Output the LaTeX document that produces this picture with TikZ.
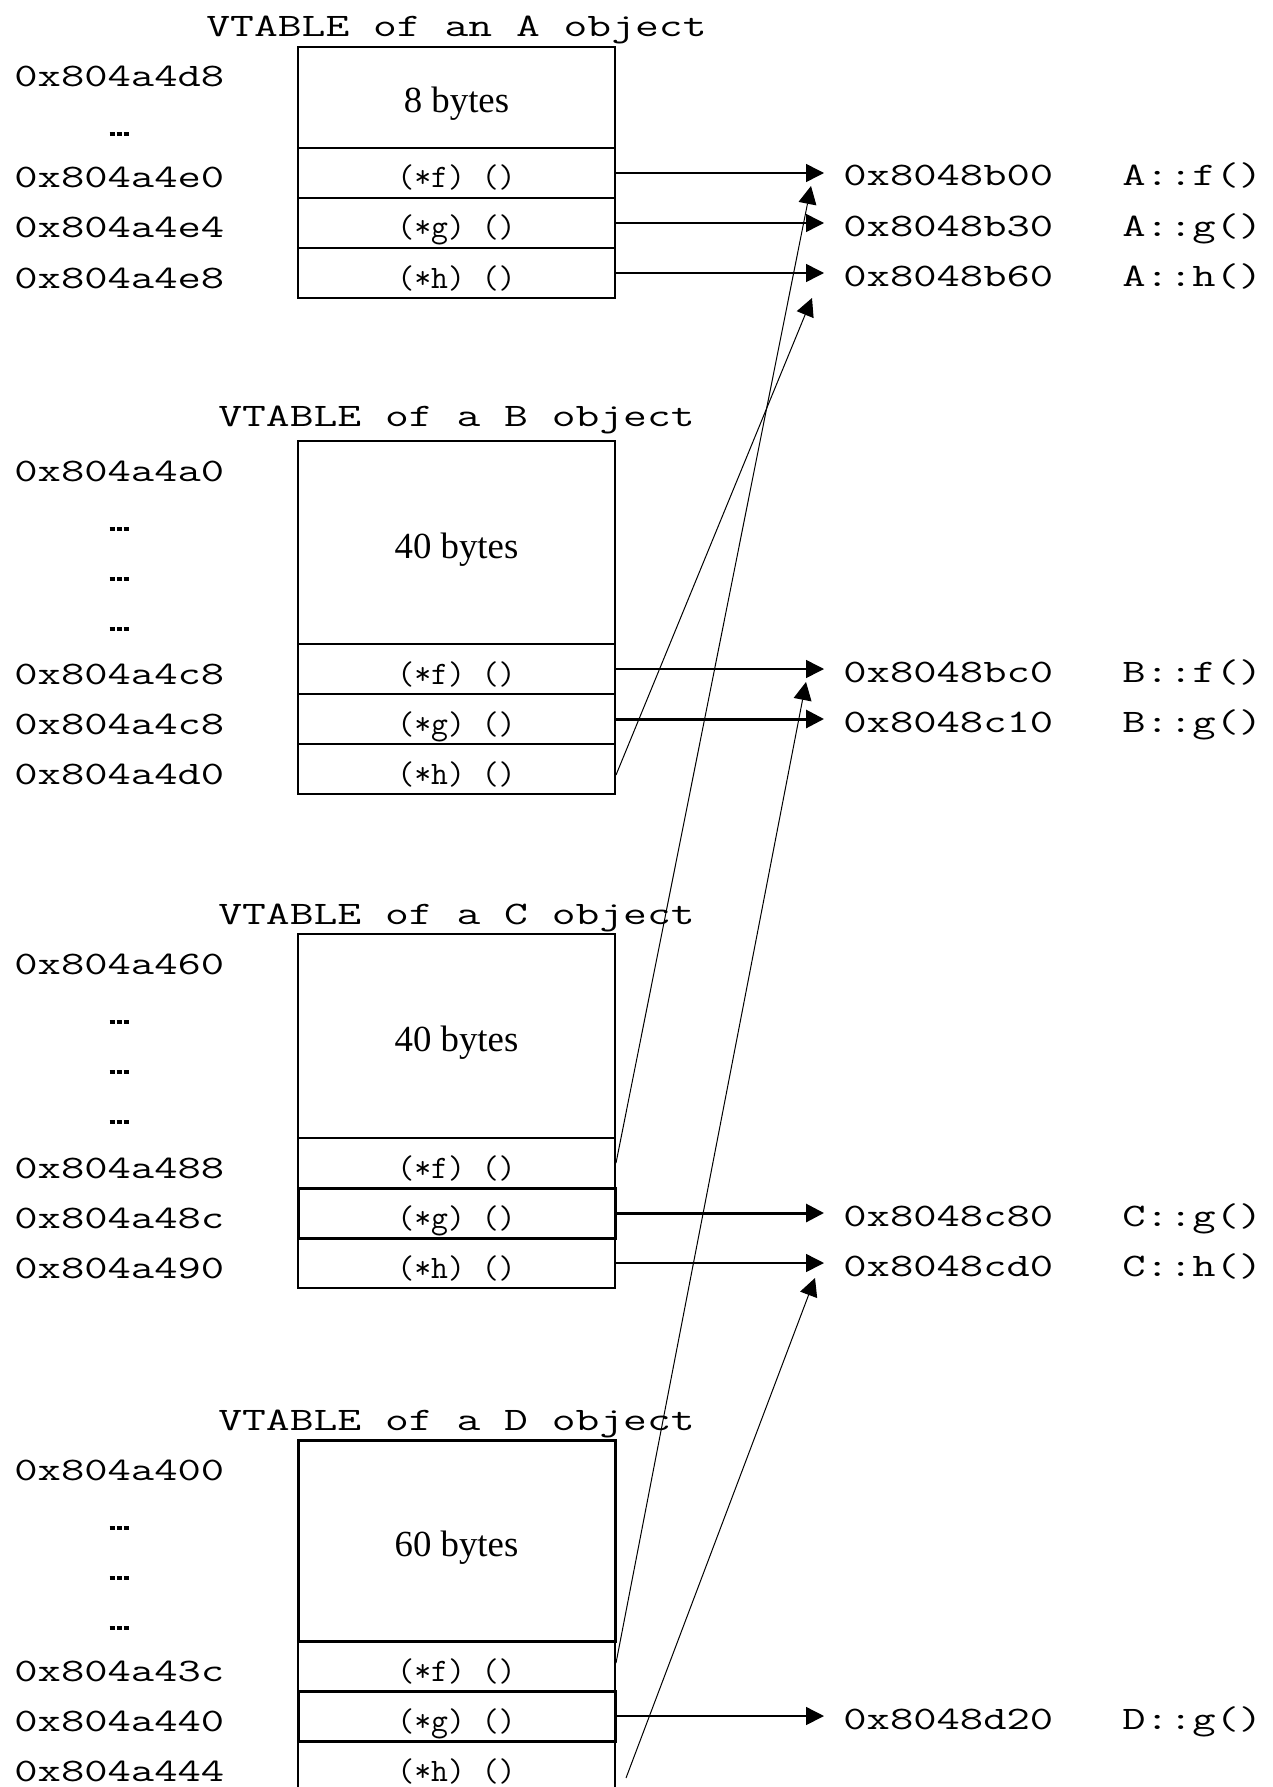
\documentclass[tikz,border=0pt]{standalone}
\usepackage{fontspec}
\setmainfont{Liberation Serif}
\usepackage{graphicx}
\usetikzlibrary{arrows.meta}

\newcommand{\wide}[1]{\scalebox{1.38}[1]{#1}}
\newcommand{\widetitle}[1]{\scalebox{1.41}[1]{#1}}
\newcommand{\gap}{\rule{2.5pt}{2.2pt}\kern1pt\rule{2.5pt}{2.2pt}\kern1pt\rule{2.5pt}{2.2pt}}

\begin{document}
\begin{tikzpicture}[x=0.5pt,y=-0.5pt,
	mono/.style={font=\fontsize{16.4}{18}\selectfont\ttfamily, inner sep=0pt},
	addr/.style={mono, anchor=base west},
	vtitle/.style={mono, anchor=base},
	dots/.style={inner sep=0pt},
	cell/.style={draw, line width=1pt, minimum width=158.5pt, minimum height=25pt, inner sep=0pt, text height=15pt, text depth=0pt, mono},
	bigcell/.style={draw, line width=1pt, minimum width=158.5pt, inner sep=0pt, text height=15.5pt, text depth=0pt, font=\fontsize{18.4}{20}\selectfont},
	target/.style={mono, anchor=base west, inner xsep=9.5pt},
	fname/.style={mono, anchor=base west},
	ptr/.style={-{Triangle[length=9pt,width=9pt]}, line width=.75pt},
	ptrthick/.style={ptr, line width=1.5pt},
	inherit/.style={-{Triangle[length=9pt,width=9pt]}, line width=.5pt}]
	\useasboundingbox (0,0) rectangle (1273,1787);

	% A
	\node[vtitle] (tA) at (456.5,37) {\widetitle{VTABLE of an A object}};
	\node[bigcell, minimum height=50.5pt] (A0) at (456.5,97.5) {8 bytes};
	\node[cell] (Af) at (456.5,173) {(*f) ()};
	\node[cell] (Ag) at (456.5,223) {(*g) ()};
	\node[cell] (Ah) at (456.5,273) {(*h) ()};
	\node[addr] (aA0) at (14,87) {\wide{0x804a4d8}};
	\node[dots] (dA1) at (119,134) {\gap};
	\node[addr] (aAf) at (14,188) {\wide{0x804a4e0}};
	\node[addr] (aAg) at (14,238) {\wide{0x804a4e4}};
	\node[addr] (aAh) at (14,288) {\wide{0x804a4e8}};

	% B
	\node[vtitle] (tB) at (456.5,426) {\widetitle{VTABLE of a B object}};
	\node[bigcell, minimum height=101.5pt] (B0) at (456.5,542.5) {40 bytes};
	\node[cell] (Bf) at (456.5,669) {(*f) ()};
	\node[cell] (Bg) at (456.5,719) {(*g) ()};
	\node[cell] (Bh) at (456.5,769) {(*h) ()};
	\node[addr] (aB0) at (14,481) {\wide{0x804a4a0}};
	\node[dots] (dB1) at (119,529) {\gap};
	\node[dots] (dB2) at (119,579) {\gap};
	\node[dots] (dB3) at (119,629) {\gap};
	\node[addr] (aBf) at (14,684) {\wide{0x804a4c8}};
	\node[addr] (aBg) at (14,734) {\wide{0x804a4c8}};
	\node[addr] (aBh) at (14,784) {\wide{0x804a4d0}};

	% C
	\node[vtitle] (tC) at (456.5,924) {\widetitle{VTABLE of a C object}};
	\node[bigcell, minimum height=102pt] (C0) at (456.5,1036) {40 bytes};
	\node[cell] (Cf) at (456.5,1163) {(*f) ()};
	\node[cell, line width=1.5pt] (Cg) at (456.5,1213) {(*g) ()};
	\node[cell] (Ch) at (456.5,1263) {(*h) ()};
	\node[addr] (aC0) at (14,974) {\wide{0x804a460}};
	\node[dots] (dC1) at (119,1022) {\gap};
	\node[dots] (dC2) at (119,1072) {\gap};
	\node[dots] (dC3) at (119,1122) {\gap};
	\node[addr] (aCf) at (14,1178) {\wide{0x804a488}};
	\node[addr] (aCg) at (14,1228) {\wide{0x804a48c}};
	\node[addr] (aCh) at (14,1278) {\wide{0x804a490}};

	% D
	\node[vtitle] (tD) at (456.5,1430) {\widetitle{VTABLE of a D object}};
	\node[bigcell, minimum height=100.5pt, line width=1.5pt] (D0) at (456.5,1540.5) {60 bytes};
	\node[cell] (Df) at (456.5,1666) {(*f) ()};
	\node[cell, line width=1.5pt] (Dg) at (456.5,1716) {(*g) ()};
	\node[cell] (Dh) at (456.5,1766) {(*h) ()};
	\node[addr] (aD0) at (14,1480) {\wide{0x804a400}};
	\node[dots] (dD1) at (119,1528) {\gap};
	\node[dots] (dD2) at (119,1578) {\gap};
	\node[dots] (dD3) at (119,1628) {\gap};
	\node[addr] (aDf) at (14,1681) {\wide{0x804a43c}};
	\node[addr] (aDg) at (14,1731) {\wide{0x804a440}};
	\node[addr] (aDh) at (14,1781) {\wide{0x804a444}};

	% functions
	\node[target] (xAf) at (824,186) {\wide{0x8048b00}}; \node[fname] (nAf) at (1122,186) {\wide{A::f()}};
	\node[target] (xAg) at (824,236) {\wide{0x8048b30}}; \node[fname] (nAg) at (1122,236) {\wide{A::g()}};
	\node[target] (xAh) at (824,286) {\wide{0x8048b60}}; \node[fname] (nAh) at (1122,286) {\wide{A::h()}};
	\node[target] (xBf) at (824,682) {\wide{0x8048bc0}}; \node[fname] (nBf) at (1122,682) {\wide{B::f()}};
	\node[target] (xBg) at (824,732) {\wide{0x8048c10}}; \node[fname] (nBg) at (1122,732) {\wide{B::g()}};
	\node[target] (xCg) at (824,1226) {\wide{0x8048c80}}; \node[fname] (nCg) at (1122,1226) {\wide{C::g()}};
	\node[target] (xCh) at (824,1276) {\wide{0x8048cd0}}; \node[fname] (nCh) at (1122,1276) {\wide{C::h()}};
	\node[target] (xDg) at (824,1729) {\wide{0x8048d20}}; \node[fname] (nDg) at (1122,1729) {\wide{D::g()}};

	% own entries
	\draw[ptr] (Af.east) -- (Af.east -| xAf.west);
	\draw[ptr] (Ag.east) -- (Ag.east -| xAg.west);
	\draw[ptr] (Ah.east) -- (Ah.east -| xAh.west);
	\draw[ptr] (Bf.east) -- (Bf.east -| xBf.west);
	\draw[ptrthick] (Bg.east) -- (Bg.east -| xBg.west);
	\draw[ptrthick] (Cg.east) -- (Cg.east -| xCg.west);
	\draw[ptr] (Ch.east) -- (Ch.east -| xCh.west);
	\draw[ptr] (Dg.east) -- (Dg.east -| xDg.west);

	% inherited entries
	\coordinate (inAf) at (811,186);
	\coordinate (inAh) at (812,298);
	\coordinate (inBf) at (806,682);
	\coordinate (inCh) at (815,1278);
	\draw[inherit] ([yshift=-3pt]Bh.east) -- (inAh);
	\draw[inherit] (Cf.east) -- (inAf);
	\draw[inherit] ([yshift=1.5pt]Df.east) -- (inBf);
	\draw[inherit] ([xshift=5pt,yshift=-6pt]Dh.east) -- (inCh);
\end{tikzpicture}
\end{document}
